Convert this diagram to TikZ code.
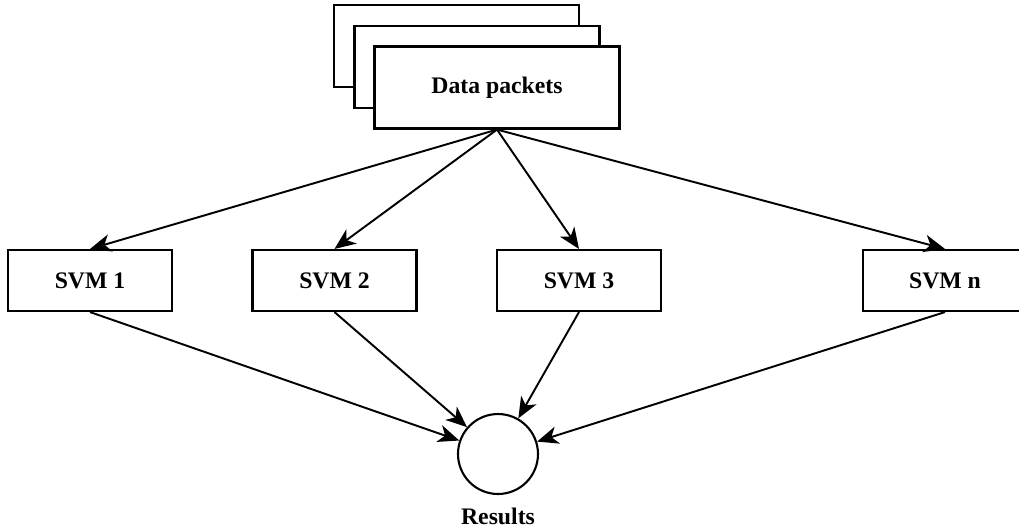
\documentclass[tikz,border=0pt]{standalone}
\usepackage{fontspec}
\setmainfont{Liberation Serif}
\usetikzlibrary{arrows.meta}

\begin{document}
\begin{tikzpicture}[x=0.02cm, y=-0.02cm,
    every node/.style={font=\fontsize{13.5}{16}\selectfont\bfseries},
    card/.style={draw, line width=1.2pt, fill=white, minimum width=4.9cm, minimum height=1.64cm},
    svmbox/.style={draw, line width=1.2pt, fill=white, minimum width=3.28cm, minimum height=1.22cm},
    arr/.style={line width=1.1pt, -{Stealth[length=12pt, width=10pt, inset=3.5pt]}}]
\useasboundingbox (0,0) rectangle (1019,529);
% Stack of data packets
\node[card] (back2) at (456.5,46) {};
\node[card] (back1) at (477,67) {};
\node[card] (packets) at (497,87.5) {Data packets};
% Classifiers
\node[svmbox] (svm1) at (90,280.5) {SVM 1};
\node[svmbox] (svm2) at (334.5,280.5) {SVM 2};
\node[svmbox] (svm3) at (579,280.5) {SVM 3};
\node[svmbox] (svmn) at (945,280.5) {SVM n};
% Combined output
\node[draw, line width=1.2pt, circle, minimum size=1.6cm, inner sep=0pt] (results) at (498,454) {};
\node[anchor=north] (reslabel) at (498,502) {Results};
% Packets to classifiers
\foreach \s in {svm1,svm2,svm3,svmn}
  \draw[arr] (packets.south) -- (\s.north);
% Classifiers to results
\foreach \s in {svm1,svm2,svm3,svmn}
  \draw[arr] (\s.south) -- (results);
\end{tikzpicture}
\end{document}
